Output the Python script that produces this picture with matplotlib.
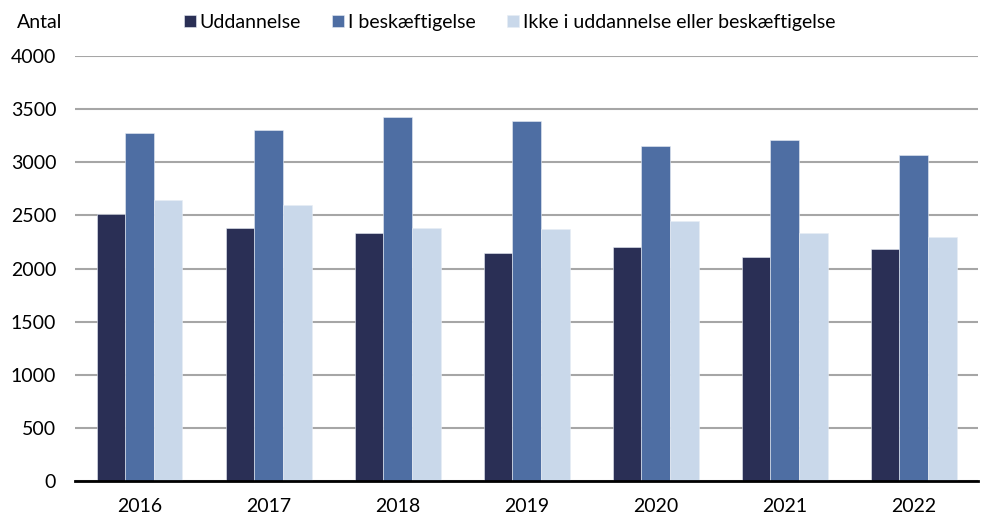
import matplotlib.pyplot as plt
import numpy as np

years = ["2016", "2017", "2018", "2019", "2020", "2021", "2022"]
uddannelse = [2510, 2380, 2330, 2150, 2200, 2110, 2180]
beskaeftigelse = [3275, 3300, 3430, 3385, 3155, 3210, 3065]
ikke = [2640, 2595, 2380, 2370, 2445, 2335, 2300]
labels = ["Uddannelse", "I beskæftigelse", "Ikke i uddannelse eller beskæftigelse"]
colors = ["#2a2f55", "#4e6ea3", "#c9d8ea"]

plt.rcParams["font.family"] = ["Lato", "DejaVu Sans"]
fs = 14

fig = plt.figure(figsize=(9.84, 5.17), dpi=100)
ax = fig.add_axes([0.0762, 0.0696, 0.918, 0.8221])

x = np.arange(len(years))
w = 0.222
handles = []
for i, (vals, lab, c) in enumerate(zip([uddannelse, beskaeftigelse, ikke], labels, colors)):
    b = ax.bar(x + (i - 1) * w, vals, w, color=c, label=lab, zorder=3,
               edgecolor="#e8edf5", linewidth=0.4)
    handles.append(b)

ax.set_xlim(-0.5, len(years) - 0.5)
ax.set_ylim(0, 4000)
ax.set_yticks(range(0, 4001, 500))
ax.set_xticks(x)
ax.set_xticklabels(years)
ax.yaxis.grid(True, color="#a6a6a6", linewidth=1.5, zorder=0)
ax.set_axisbelow(True)
ax.tick_params(axis="both", length=0, labelsize=fs, colors="black")
ax.tick_params(axis="y", pad=13.5)
ax.tick_params(axis="x", pad=12)
for s in ["top", "right", "left"]:
    ax.spines[s].set_visible(False)
ax.spines["bottom"].set_linewidth(2)
ax.spines["bottom"].set_color("black")
ax.spines["bottom"].set_zorder(4)

fig.text(17 / 984, 1 - 22 / 517, "Antal", fontsize=fs, va="center", ha="left")
fig.legend(handles=handles, labels=labels, loc="center", bbox_to_anchor=(0.518, 0.957),
           ncol=3, frameon=False, fontsize=fs, handlelength=0.62, handleheight=0.62,
           handletextpad=0.2, columnspacing=1.6, borderaxespad=0, borderpad=0)

fig.savefig("out.png", dpi=100)
